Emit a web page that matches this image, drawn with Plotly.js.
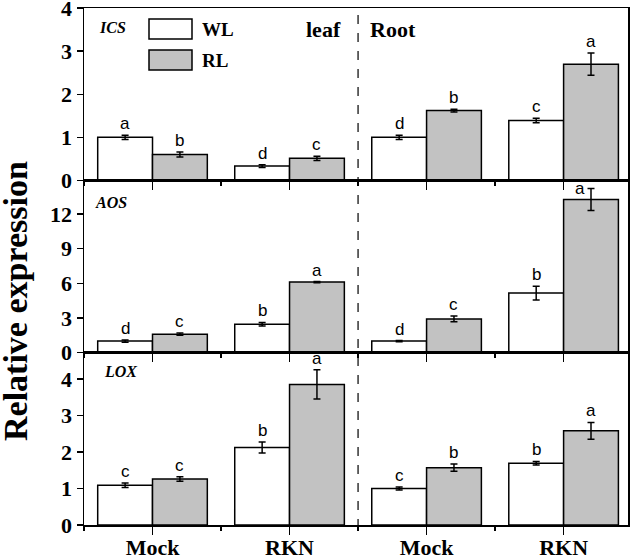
<!DOCTYPE html>
<html>
<head>
<meta charset="utf-8">
<script src="https://cdn.plot.ly/plotly-3.0.1.min.js"></script>
<style>
  html, body { margin: 0; padding: 0; background: #fff; }
  #chart { width: 633px; height: 558px; }
</style>
</head>
<body>
<div id="chart"></div>
<script>
// x positions: leaf Mock, leaf RKN, root Mock, root RKN
const groupPos = [0, 1, 2, 3];
const groupLabels = ['Mock', 'RKN', 'Mock', 'RKN'];

// ICS
const icsWL = [1.0, 0.33, 1.0, 1.39];
const icsWLErr = [0.05, 0.03, 0.05, 0.05];
const icsRL = [0.60, 0.51, 1.62, 2.70];
const icsRLErr = [0.06, 0.05, 0.03, 0.26];
const icsWLLetters = ['a', 'd', 'd', 'c'];
const icsRLLetters = ['b', 'c', 'b', 'a'];

// AOS
const aosWL = [1.0, 2.46, 1.0, 5.15];
const aosWLErr = [0.1, 0.15, 0.05, 0.6];
const aosRL = [1.6, 6.1, 2.92, 13.24];
const aosRLErr = [0.1, 0.05, 0.25, 0.95];
const aosWLLetters = ['d', 'b', 'd', 'b'];
const aosRLLetters = ['c', 'a', 'c', 'a'];

// LOX
const loxWL = [1.09, 2.12, 1.0, 1.69];
const loxWLErr = [0.06, 0.15, 0.04, 0.05];
const loxRL = [1.26, 3.85, 1.57, 2.58];
const loxRLErr = [0.06, 0.4, 0.1, 0.23];
const loxWLLetters = ['c', 'b', 'c', 'b'];
const loxRLLetters = ['c', 'a', 'b', 'a'];

const serif = 'Liberation Serif';
const sans = 'Liberation Sans';
const grey = '#c2c2c2';

const panels = [
    { gene: 'ICS', wl: icsWL, wle: icsWLErr, rl: icsRL, rle: icsRLErr, wlL: icsWLLetters, rlL: icsRLLetters,
      xa: 'x', ya: 'y', range: [0, 4.005], dtick: 1, domain: [0.6667, 1], geneX: 0.024, geneY: 0.884 },
    { gene: 'AOS', wl: aosWL, wle: aosWLErr, rl: aosRL, rle: aosRLErr, wlL: aosWLLetters, rlL: aosRLLetters,
      xa: 'x2', ya: 'y2', range: [0, 14.9], dtick: 3, domain: [0.3333, 0.6667], geneX: 0.017, geneY: 0.872 },
    { gene: 'LOX', wl: loxWL, wle: loxWLErr, rl: loxRL, rle: loxRLErr, wlL: loxWLLetters, rlL: loxRLLetters,
      xa: 'x3', ya: 'y3', range: [0, 4.72], dtick: 1, domain: [0, 0.3333], geneX: 0.033, geneY: 0.888 }
];

const panelPx = 172;
const traces = [];
const annotations = [];

function barTrace(p, vals, errs, fill, name) {
    return {
        type: 'bar',
        x: groupPos,
        y: vals,
        name: name,
        offsetgroup: name,
        xaxis: p.xa,
        yaxis: p.ya,
        marker: { color: fill, line: { color: '#000', width: 1.5 } },
        error_y: { type: 'data', array: errs, visible: true, color: '#000', thickness: 1.5, width: 3.5 },
        showlegend: false,
        hoverinfo: 'skip'
    };
}

panels.forEach(p => {
    traces.push(barTrace(p, p.wl, p.wle, '#ffffff', 'WL'));
    traces.push(barTrace(p, p.rl, p.rle, grey, 'RL'));

    const pxPerUnit = panelPx / p.range[1];
    // significance letters
    groupPos.forEach((g, i) => {
        [[-0.2, p.wl[i] + p.wle[i], p.wlL[i]], [0.2, p.rl[i] + p.rle[i], p.rlL[i]]].forEach(([off, top, txt]) => {
            const ann = {
                x: g + off, y: top, xref: p.xa, yref: p.ya,
                text: txt, showarrow: false, yanchor: 'bottom', yshift: 0,
                font: { family: sans, size: 17, color: '#000' }
            };
            // no room above the error bar: put the letter beside it
            if ((top * pxPerUnit) + 17 > panelPx) {
                ann.xanchor = 'right';
                ann.xshift = -4;
                ann.yanchor = 'middle';
            }
            annotations.push(ann);
        });
    });

    // gene label
    annotations.push({
        x: p.geneX, y: p.geneY, xref: p.xa + ' domain', yref: p.ya + ' domain',
        text: '<b><i>' + p.gene + '</i></b>', showarrow: false, xanchor: 'left', yanchor: 'middle',
        font: { family: serif, size: 16, color: '#000' }
    });
});

// tissue labels
annotations.push({
    x: (343 - 84) / 544, y: (525 - 30) / 517, xref: 'paper', yref: 'paper',
    text: '<b>leaf</b>', showarrow: false, xanchor: 'right', yanchor: 'middle',
    font: { family: serif, size: 22, color: '#000' }
});
annotations.push({
    x: (368 - 84) / 544, y: (525 - 30) / 517, xref: 'paper', yref: 'paper',
    text: '<b>Root</b>', showarrow: false, xanchor: 'left', yanchor: 'middle',
    font: { family: serif, size: 22, color: '#000' }
});

// legend text
annotations.push({
    x: (200 - 84) / 544, y: (525 - 29) / 517, xref: 'paper', yref: 'paper',
    text: '<b>WL</b>', showarrow: false, xanchor: 'left', yanchor: 'middle',
    font: { family: serif, size: 19, color: '#000' }
});
annotations.push({
    x: (200 - 84) / 544, y: (525 - 60) / 517, xref: 'paper', yref: 'paper',
    text: '<b>RL</b>', showarrow: false, xanchor: 'left', yanchor: 'middle',
    font: { family: serif, size: 19, color: '#000' }
});

// y title
annotations.push({
    x: (15 - 84) / 544, y: (525 - 301) / 517, xref: 'paper', yref: 'paper',
    text: '<b>Relative expression</b>', showarrow: false, textangle: -90,
    xanchor: 'center', yanchor: 'middle',
    font: { family: serif, size: 34, color: '#000' }
});

const shapes = [
    // dashed divider between leaf and root
    { type: 'line', xref: 'x', yref: 'paper', x0: 1.5, x1: 1.5, y0: -0.006, y1: 1,
      line: { color: '#000', width: 1.2, dash: 'dash' } },
    // legend boxes
    { type: 'rect', xref: 'paper', yref: 'paper',
      x0: (149 - 84) / 544, x1: (192 - 84) / 544, y0: (525 - 39) / 517, y1: (525 - 19) / 517,
      fillcolor: '#ffffff', line: { color: '#000', width: 1.5 } },
    { type: 'rect', xref: 'paper', yref: 'paper',
      x0: (149 - 84) / 544, x1: (192 - 84) / 544, y0: (525 - 70) / 517, y1: (525 - 50) / 517,
      fillcolor: grey, line: { color: '#000', width: 1.5 } }
];

function xAxis(anchor, showLabels) {
    return {
        anchor: anchor,
        range: [-0.5, 3.47],
        tickmode: 'array',
        tickvals: groupPos,
        ticktext: groupLabels,
        showticklabels: showLabels,
        ticklabelstandoff: -6,
        ticklabeloverflow: 'allow',
        ticks: 'outside', ticklen: 8, tickwidth: 1.5, tickcolor: '#000',
        minor: { tick0: 0.5, dtick: 1, ticks: 'outside', ticklen: 4, tickwidth: 1.5, tickcolor: '#000' },
        showline: true, mirror: true, linecolor: '#000', linewidth: 1.5,
        showgrid: false, zeroline: false, fixedrange: true,
        tickfont: { family: serif, size: 22, color: '#000', weight: 'bold' }
    };
}

function yAxis(p, anchor) {
    return {
        anchor: anchor,
        domain: p.domain,
        range: p.range,
        dtick: p.dtick,
        tick0: 0,
        ticklabeloverflow: 'allow',
        ticks: 'outside', ticklen: 6, tickwidth: 1.5, tickcolor: '#000',
        showline: true, mirror: true, linecolor: '#000', linewidth: 1.5,
        showgrid: false, zeroline: false, fixedrange: true,
        tickfont: { family: serif, size: 22, color: '#000', weight: 'bold' }
    };
}

const layout = {
    width: 633,
    height: 558,
    margin: { l: 84, r: 5, t: 8, b: 33 },
    paper_bgcolor: '#fff',
    plot_bgcolor: '#fff',
    font: { family: serif },
    barmode: 'group',
    bargap: 0.2,
    bargroupgap: 0,
    showlegend: false,
    xaxis: xAxis('y', false),
    xaxis2: Object.assign(xAxis('y2', false), { matches: 'x' }),
    xaxis3: Object.assign(xAxis('y3', true), { matches: 'x' }),
    yaxis: yAxis(panels[0], 'x'),
    yaxis2: yAxis(panels[1], 'x2'),
    yaxis3: yAxis(panels[2], 'x3'),
    annotations: annotations,
    shapes: shapes
};

Plotly.newPlot('chart', traces, layout, { displayModeBar: false, staticPlot: true });
</script>
</body>
</html>
